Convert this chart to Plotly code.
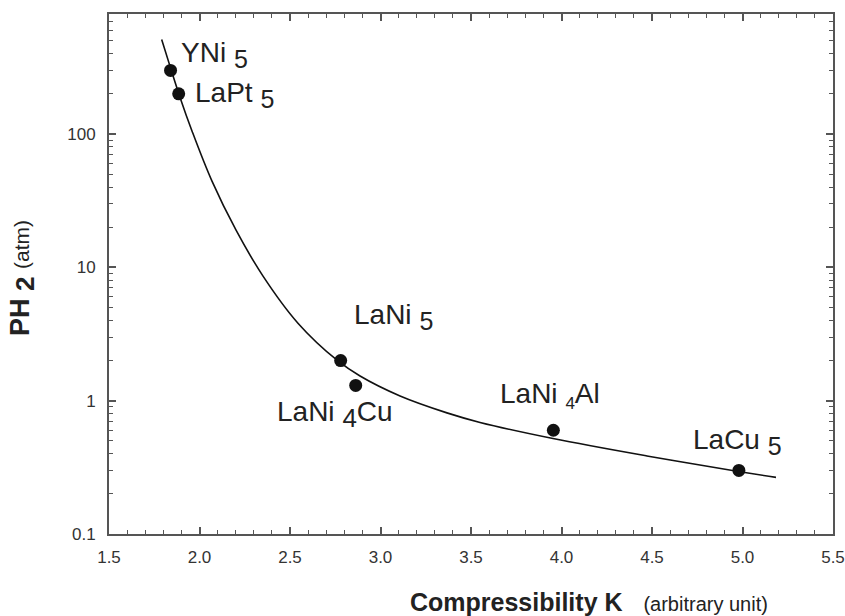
import plotly.graph_objects as go
import math

# Data points (compressibility K, plateau pressure PH2 in atm)
names = ["YNi", "LaPt", "LaNi", "LaNi", "LaNi", "LaCu"]
subs = ["5", "5", "5", "4", "4", "5"]
tails = ["", "", "", "Cu", "Al", ""]
k_vals = [1.84, 1.885, 2.78, 2.863, 3.955, 4.98]
p_vals = [300, 200, 2.0, 1.3, 0.6, 0.3]

# Fitted curve
curve_k = [1.791, 1.843, 1.892, 1.959, 2.069, 2.202, 2.351, 2.544, 2.760, 2.887,
           3.108, 3.367, 3.550, 3.953, 4.472, 4.986, 5.185]
curve_p = [512, 304, 189, 105, 44.3, 19.0, 8.59, 3.81, 2.01, 1.53,
           1.084, 0.810, 0.687, 0.520, 0.385, 0.293, 0.266]

x_ticks = [1.5, 2.0, 2.5, 3.0, 3.5, 4.0, 4.5, 5.0, 5.5]
y_ticks = [0.1, 1, 10, 100]
y_tick_text = ["0.1", "1", "10", "100"]

FONT = "Liberation Sans, Arial, Helvetica, sans-serif"
AX = "#555555"

fig = go.Figure()
fig.add_trace(go.Scatter(x=curve_k, y=curve_p, mode="lines",
                         line=dict(color="#111", width=1.6, shape="spline", smoothing=1.0),
                         hoverinfo="skip"))
fig.add_trace(go.Scatter(x=k_vals, y=p_vals, mode="markers", marker=dict(color="#111", size=13)))

# label styling: (xshift, yshift, xanchor, sub font size)
label_style = [
    (8, 15, "left", 25),
    (14, -1, "left", 25),
    (11, 44, "left", 25),
    (-21, -29, "center", 26),
    (-3, 35, "center", 17),
    (-1, 28, "center", 25),
]
for i in range(len(names)):
    xs, ys, xa, sfs = label_style[i]
    txt = f"{names[i]} <sub><span style='font-size:{sfs}px'>{subs[i]}</span></sub>{tails[i]}"
    fig.add_annotation(x=k_vals[i], y=math.log10(p_vals[i]), text=txt, showarrow=False,
                       xshift=xs, yshift=ys, xanchor=xa, yanchor="middle",
                       font=dict(family=FONT, size=28, color="#222"))

fig.add_annotation(xref="paper", yref="paper", x=0.663, y=-0.131, xanchor="center", yanchor="middle",
                   text="<b>Compressibility K</b>&nbsp;&nbsp;&nbsp;<span style='font-size:20px'>(arbitrary unit)</span>",
                   showarrow=False, font=dict(family=FONT, size=25, color="#222"))
fig.add_annotation(xref="paper", yref="paper", x=-0.119, y=0.492, xanchor="center", yanchor="middle",
                   textangle=-90,
                   text="<b>PH</b> <sub><span style='font-size:26px'><b>2</b></span></sub> <span style='font-size:21px'>(atm)</span>",
                   showarrow=False, font=dict(family=FONT, size=27, color="#222"))

fig.update_xaxes(range=[1.5, 5.5], tickvals=x_ticks, ticktext=[f"{v:.1f}" for v in x_ticks],
                 ticks="inside", ticklen=7, tickwidth=1.5, tickcolor=AX, ticklabelstandoff=7,
                 showline=True, linecolor=AX, linewidth=2, mirror="ticks",
                 showgrid=False, zeroline=False, automargin=False,
                 tickfont=dict(family=FONT, size=17, color="#333"),
                 minor=dict(dtick=0.1, ticks="inside", ticklen=4, tickwidth=1.2, tickcolor=AX, showgrid=False))
fig.update_yaxes(type="log", range=[-1, 2.9], tickvals=y_ticks, ticktext=y_tick_text,
                 ticks="inside", ticklen=7, tickwidth=1.5, tickcolor=AX, ticklabelstandoff=8,
                 showline=True, linecolor=AX, linewidth=2, mirror="ticks",
                 showgrid=False, zeroline=False, automargin=False,
                 tickfont=dict(family=FONT, size=17, color="#333"),
                 minor=dict(dtick="D1", ticks="inside", ticklen=4, tickwidth=1.2, tickcolor=AX, showgrid=False))

fig.update_layout(width=845, height=616, margin=dict(l=109, r=12, t=14, b=82, autoexpand=False),
                  paper_bgcolor="white", plot_bgcolor="white", showlegend=False)

fig.write_html("out.html", config={"displayModeBar": False},
               post_script="document.body.style.margin='0px';")
